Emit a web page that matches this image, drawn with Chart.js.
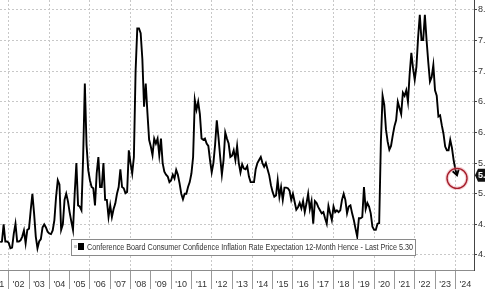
<!DOCTYPE html>
<html>
<head>
<meta charset="utf-8">
<script src="https://cdn.jsdelivr.net/npm/chart.js@4.4.1/dist/chart.umd.min.js"></script>
<style>
  html, body { margin: 0; padding: 0; background: #fff; overflow: hidden; }
  #wrap { width: 485px; height: 289px; overflow: hidden; }
</style>
</head>
<body>
<div id="wrap"><canvas id="chart" width="500" height="289"></canvas></div>
<script>
// Conference Board 12-month inflation expectation, monthly, first value Aug 2001
const startYear = 2001;
const startMonth = 8;
const expectations = [
    4.21, 4.22, 4.50, 4.22, 4.22,                                          // 2001
    4.20, 4.11, 4.12, 4.35, 4.51, 4.22, 4.22, 4.24, 4.30, 4.40, 4.19, 4.41, // 2002
    4.43, 4.73, 5.00, 4.68, 4.30, 4.11, 4.22, 4.26, 4.45, 4.50, 4.45, 4.38, // 2003
    4.35, 4.34, 4.40, 4.57, 4.95, 5.22, 5.15, 4.41, 4.50, 4.90, 5.00, 4.88, // 2004
    4.70, 4.55, 4.41, 5.00, 5.50, 4.81, 4.79, 4.73, 5.60, 6.80, 5.80, 5.39, // 2005
    5.22, 5.11, 5.09, 4.81, 5.33, 5.60, 5.11, 5.11, 5.50, 4.90, 4.90, 4.62, // 2006
    4.81, 4.62, 4.75, 4.84, 5.00, 5.11, 5.40, 5.11, 5.09, 5.01, 5.03, 5.71, // 2007
    5.50, 5.33, 5.60, 7.00, 7.70, 7.70, 7.62, 7.20, 6.42, 6.80, 6.32, 5.88, // 2008
    5.77, 5.63, 5.90, 5.82, 5.90, 5.63, 5.90, 5.50, 5.36, 5.31, 5.28, 5.19, // 2009
    5.22, 5.31, 5.25, 5.39, 5.31, 5.17, 5.00, 4.91, 5.00, 5.00, 5.11, 5.19, // 2010
    5.33, 5.60, 6.53, 6.37, 6.50, 6.30, 5.90, 5.88, 5.90, 5.82, 5.78, 5.55, // 2011
    5.35, 5.50, 5.80, 6.20, 5.92, 5.60, 5.31, 5.55, 6.00, 5.90, 5.82, 5.60, // 2012
    5.62, 5.71, 5.55, 5.78, 5.50, 5.35, 5.48, 5.41, 5.40, 5.45, 5.28, 5.19, // 2013
    5.19, 5.19, 5.40, 5.50, 5.55, 5.60, 5.50, 5.44, 5.50, 5.40, 5.30, 5.14, // 2014
    5.03, 4.95, 4.97, 5.22, 4.95, 5.11, 4.90, 5.10, 5.10, 5.09, 5.05, 4.90, // 2015
    5.00, 4.87, 4.74, 4.78, 4.85, 4.76, 4.88, 4.70, 4.84, 5.00, 4.75, 4.88, // 2016
    4.51, 4.88, 4.85, 4.78, 4.73, 4.68, 4.70, 4.60, 4.51, 4.80, 4.68, 4.57, // 2017
    4.79, 4.70, 4.73, 4.70, 4.73, 4.90, 5.00, 4.90, 4.68, 4.79, 4.81, 4.68, // 2018
    4.57, 4.43, 4.30, 4.60, 4.60, 4.62, 5.11, 4.75, 4.85, 4.79, 4.68, 4.46, // 2019
    4.41, 4.41, 4.51, 4.52, 5.85, 6.60, 6.45, 6.05, 5.85, 5.72, 5.78, 5.95, // 2020
    6.10, 6.20, 6.50, 6.40, 6.30, 6.65, 6.60, 6.69, 6.50, 6.95, 7.30, 7.05, // 2021
    6.86, 7.07, 7.55, 7.92, 7.51, 7.51, 7.92, 7.51, 7.15, 6.83, 6.90, 7.10, // 2022
    6.69, 6.60, 6.26, 6.28, 6.12, 5.98, 5.77, 5.71, 5.71, 5.88, 5.75, 5.55, // 2023
    5.40, 5.30                                                              // 2024
];

const yearTicks = [2001, 2002, 2003, 2004, 2005, 2006, 2007, 2008, 2009, 2010, 2011, 2012,
    2013, 2014, 2015, 2016, 2017, 2018, 2019, 2020, 2021, 2022, 2023, 2024];
const yearLabels = ["'01", "'02", "'03", "'04", "'05", "'06", "'07", "'08", "'09", "'10", "'11", "'12",
    "'13", "'14", "'15", "'16", "'17", "'18", "'19", "'20", "'21", "'22", "'23", "'24"];
const valueTicks = [4.0, 4.5, 5.0, 5.5, 6.0, 6.5, 7.0, 7.5, 8.0];

const seriesName = 'Conference Board Consumer Confidence Inflation Rate Expectation 12-Month Hence - Last Price';
const lastPrice = 5.30;

const points = expectations.map((v, i) => ({ x: startYear + (startMonth - 1 + i) / 12, y: v }));

const narrowFont = "'Liberation Sans Narrow', 'Liberation Sans', Arial, sans-serif";
const plainFont = "'Liberation Sans', Arial, sans-serif";

// arrow on the last point, red ring, legend box and last price tag
const overlay = {
    id: 'overlay',
    afterDatasetsDraw(chart) {
        const ctx = chart.ctx;
        const meta = chart.getDatasetMeta(0);
        const last = meta.data[meta.data.length - 1];
        const prev = meta.data[meta.data.length - 2];
        const ang = Math.atan2(last.y - prev.y, last.x - prev.x);

        ctx.save();
        ctx.strokeStyle = '#000';
        ctx.lineWidth = 1.9;
        ctx.beginPath();
        ctx.moveTo(last.x - 6 * Math.cos(ang - 0.55), last.y - 6 * Math.sin(ang - 0.55));
        ctx.lineTo(last.x, last.y);
        ctx.lineTo(last.x - 6 * Math.cos(ang + 0.55), last.y - 6 * Math.sin(ang + 0.55));
        ctx.stroke();

        ctx.beginPath();
        ctx.arc(last.x, last.y + 3, 10, 0, Math.PI * 2);
        ctx.strokeStyle = 'rgba(230, 140, 150, 0.4)';
        ctx.lineWidth = 3.5;
        ctx.stroke();
        ctx.strokeStyle = '#a51d2b';
        ctx.lineWidth = 1.4;
        ctx.stroke();
        ctx.restore();
    },
    afterDraw(chart) {
        const ctx = chart.ctx;
        ctx.save();

        // legend
        ctx.fillStyle = '#fff';
        ctx.strokeStyle = '#8a8a8a';
        ctx.lineWidth = 1;
        ctx.fillRect(71, 239, 344, 16);
        ctx.strokeRect(71.5, 239.5, 344, 16);
        ctx.fillStyle = '#c4c4c4';
        ctx.fillRect(74, 245, 3, 3);
        ctx.fillStyle = '#000';
        ctx.fillRect(78, 243, 6, 7);

        const label = seriesName + ' ' + lastPrice.toFixed(2);
        ctx.font = '8.5px ' + narrowFont;
        ctx.fillStyle = '#333';
        ctx.textBaseline = 'middle';
        const w = ctx.measureText(label).width;
        const sx = Math.min(1, 326 / w);
        ctx.translate(87, 247.5);
        ctx.scale(sx, 1);
        ctx.fillText(label, 0, 0);
        ctx.restore();

        // last price tag on the value axis
        const y = chart.scales.y.getPixelForValue(lastPrice);
        const x0 = chart.chartArea.right + 1;
        ctx.save();
        ctx.fillStyle = '#111';
        ctx.beginPath();
        ctx.moveTo(x0, y);
        ctx.lineTo(x0 + 3, y - 6.5);
        ctx.lineTo(x0 + 30, y - 6.5);
        ctx.lineTo(x0 + 30, y + 6.5);
        ctx.lineTo(x0 + 3, y + 6.5);
        ctx.closePath();
        ctx.fill();
        ctx.fillStyle = '#fff';
        ctx.font = 'bold 9px ' + plainFont;
        ctx.textBaseline = 'middle';
        ctx.fillText(lastPrice.toFixed(2), x0 + 3, y + 0.5);
        ctx.restore();
    }
};

new Chart(document.getElementById('chart'), {
    type: 'line',
    data: {
        datasets: [{
            data: points,
            borderColor: '#000',
            borderWidth: 1.9,
            pointRadius: 0,
            tension: 0,
            fill: false
        }]
    },
    options: {
        responsive: false,
        animation: false,
        layout: { padding: 0 },
        plugins: { legend: { display: false }, tooltip: { enabled: false } },
        scales: {
            x: {
                type: 'linear',
                min: 2001.571,
                max: 2024.92,
                afterBuildTicks: s => { s.ticks = yearTicks.map(v => ({ value: v })); },
                afterFit: s => { s.height = 19; s.paddingLeft = 0; s.paddingRight = 0; },
                ticks: {
                    callback: (v, i) => yearLabels[i],
                    autoSkip: false,
                    maxRotation: 0,
                    labelOffset: 10,
                    padding: -10,
                    color: '#333',
                    font: { family: narrowFont, size: 9 }
                },
                grid: {
                    color: c => (c.tick && c.tick.value % 2 === 0) ? '#c8c8c8' : 'rgba(0,0,0,0)',
                    tickColor: '#9a9a9a',
                    tickLength: 19,
                    tickBorderDash: []
                },
                border: { color: '#8c8c8c', dash: [2, 2] }
            },
            y: {
                position: 'right',
                min: 3.755,
                max: 8.163,
                afterBuildTicks: s => { s.ticks = valueTicks.map(v => ({ value: v })); },
                afterFit: s => { s.width = 26; s.paddingTop = 0; s.paddingBottom = 0; },
                ticks: {
                    callback: v => v.toFixed(1),
                    padding: 1,
                    color: '#333',
                    font: { family: plainFont, size: 9 }
                },
                grid: {
                    color: '#c8c8c8',
                    tickColor: '#444',
                    tickLength: 3,
                    tickBorderDash: []
                },
                border: { color: '#444', dash: [2, 2] }
            }
        }
    },
    plugins: [overlay]
});
</script>
</body>
</html>
